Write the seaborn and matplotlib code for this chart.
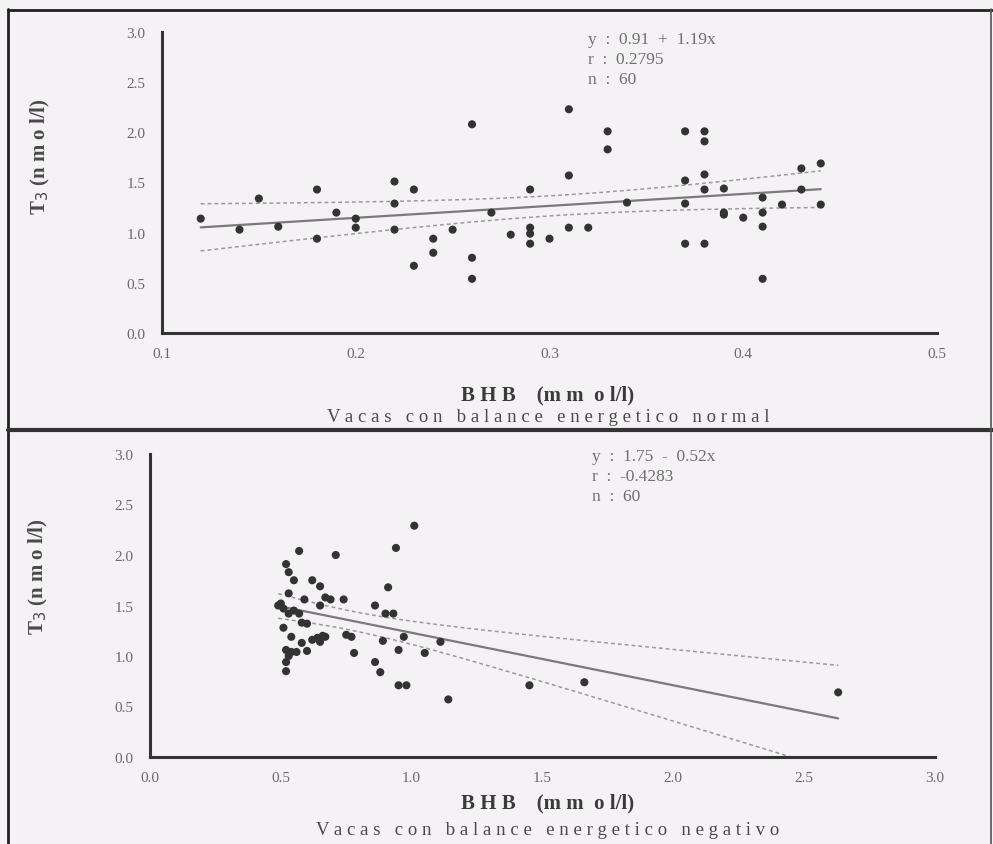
import numpy as np
import pandas as pd
import matplotlib
matplotlib.use("Agg")
import matplotlib.pyplot as plt
from matplotlib.lines import Line2D
import seaborn as sns

# ---------------- data ----------------
normal_bhb = [0.12, 0.14, 0.15, 0.16, 0.18, 0.18, 0.19, 0.20, 0.20, 0.22,
              0.22, 0.22, 0.23, 0.23, 0.24, 0.24, 0.25, 0.26, 0.26, 0.26,
              0.27, 0.28, 0.29, 0.29, 0.29, 0.29, 0.30, 0.31, 0.31, 0.31,
              0.32, 0.33, 0.33, 0.34, 0.37, 0.37, 0.37, 0.37, 0.38, 0.38,
              0.38, 0.38, 0.38, 0.39, 0.39, 0.39, 0.40, 0.41, 0.41, 0.41,
              0.41, 0.42, 0.43, 0.43, 0.44, 0.44]
normal_t3 = [1.14, 1.03, 1.34, 1.06, 1.43, 0.94, 1.20, 1.14, 1.05, 1.51,
             1.29, 1.03, 1.43, 0.67, 0.94, 0.80, 1.03, 2.08, 0.75, 0.54,
             1.20, 0.98, 1.43, 1.05, 0.99, 0.89, 0.94, 2.23, 1.57, 1.05,
             1.05, 2.01, 1.83, 1.30, 2.01, 1.52, 1.29, 0.89, 2.01, 1.91,
             1.58, 1.43, 0.89, 1.44, 1.20, 1.18, 1.15, 1.35, 1.20, 1.06,
             0.54, 1.28, 1.64, 1.43, 1.69, 1.28]

neg_bhb = [0.57, 0.71, 0.94, 1.01, 0.52, 0.53, 0.55, 0.62, 0.65, 0.53,
           0.59, 0.67, 0.69, 0.74, 0.65, 0.49, 0.51, 0.53, 0.57, 0.58,
           0.60, 0.91, 0.86, 0.90, 0.93, 0.51, 0.54, 0.58, 0.64, 0.65,
           0.67, 0.75, 0.77, 0.89, 0.97, 1.11, 0.52, 0.56, 0.78, 0.95,
           1.05, 0.52, 0.52, 0.86, 0.88, 0.95, 0.98, 1.14, 1.45, 1.66,
           2.63, 0.50, 0.55, 0.62, 0.60, 0.53, 0.66, 0.54]
neg_t3 = [2.04, 2.00, 2.07, 2.29, 1.91, 1.83, 1.75, 1.75, 1.69, 1.62,
          1.56, 1.58, 1.56, 1.56, 1.50, 1.50, 1.47, 1.42, 1.42, 1.33,
          1.32, 1.68, 1.50, 1.42, 1.42, 1.28, 1.19, 1.13, 1.18, 1.14,
          1.19, 1.21, 1.19, 1.15, 1.19, 1.14, 1.06, 1.04, 1.03, 1.06,
          1.03, 0.94, 0.85, 0.94, 0.84, 0.71, 0.71, 0.57, 0.71, 0.74,
          0.64, 1.52, 1.45, 1.16, 1.05, 1.00, 1.20, 1.04]

normal_fit = [0.91, 1.19]      # intercept, slope
neg_fit = [1.75, -0.52]
normal_stats = ["y  :  0.91  +  1.19x", "r  :  0.2795", "n  :  60"]
neg_stats = ["y  :  1.75  -  0.52x", "r  :  -0.4283", "n  :  60"]
normal_xticks = [0.1, 0.2, 0.3, 0.4, 0.5]
neg_xticks = [0.0, 0.5, 1.0, 1.5, 2.0, 2.5, 3.0]
yticks = [0.0, 0.5, 1.0, 1.5, 2.0, 2.5, 3.0]
ylabel = "T$_3$ (n m o l/l)"
xlabel = "B H B    (m m  o l/l)"
normal_title = "V a c a s   c o n   b a l a n c e   e n e r g e t i c o   n o r m a l"
neg_title = "V a c a s   c o n   b a l a n c e   e n e r g e t i c o   n e g a t i v o"

# ---------------- style ----------------
sns.set_theme(style="white")
plt.rcParams["font.family"] = ["Liberation Serif", "DejaVu Serif"]
BG = "#f4f2f4"
W, H = 993, 845
fig = plt.figure(figsize=(W / 100, H / 100), dpi=100, facecolor=BG)


def px_axes(x0, y0, x1, y1):
    return fig.add_axes([x0 / W, 1 - y1 / H, (x1 - x0) / W, (y1 - y0) / H])


def panel(ax, xs, ys, fit, xlim, xticks, stats, stat_xy):
    ax.set_facecolor(BG)
    df = pd.DataFrame({"x": xs, "y": ys})
    # regression line and 95% confidence band around the stated fit
    a, b = fit
    x = np.asarray(xs)
    y = np.asarray(ys)
    n = len(x)
    resid = y - (a + b * x)
    s = np.sqrt(np.sum(resid ** 2) / (n - 2))
    sxx = np.sum((x - x.mean()) ** 2)
    xx = np.linspace(x.min(), x.max(), 200)
    yy = a + b * xx
    hw = 2.0 * s * np.sqrt(1 / n + (xx - x.mean()) ** 2 / sxx)
    ax.plot(xx, yy, color="#7a7a7a", lw=1.6, zorder=2)
    ax.plot(xx, yy + hw, color="#9a9a9a", lw=1.1, ls=(0, (2.5, 2)), zorder=2)
    ax.plot(xx, yy - hw, color="#9a9a9a", lw=1.1, ls=(0, (2.5, 2)), zorder=2)
    sns.scatterplot(data=df, x="x", y="y", ax=ax, color="#333333", s=34,
                    edgecolor="none", marker="o", zorder=3, legend=False)
    ax.set_xlim(*xlim)
    ax.set_ylim(0, 3.0)
    ax.set_xticks(xticks)
    ax.set_yticks(yticks)
    ax.set_xticklabels([f"{t:.1f}" for t in xticks])
    ax.set_yticklabels([f"{t:.1f}" for t in yticks])
    ax.set_xlabel("")
    ax.set_ylabel("")
    for sp in ["top", "right"]:
        ax.spines[sp].set_visible(False)
    for sp in ["left", "bottom"]:
        ax.spines[sp].set_color("#333333")
        ax.spines[sp].set_linewidth(2.2)
    ax.tick_params(axis="y", direction="out", length=9, width=1.8,
                   color="#333333", labelcolor="#6a6a6a", labelsize=11, pad=3)
    ax.tick_params(axis="x", direction="out", length=6, width=1.8,
                   color="#333333", labelcolor="#6a6a6a", labelsize=11, pad=4)
    for i, t in enumerate(stats):
        fig.text(stat_xy[0] / W, 1 - (stat_xy[1] + 20 * i) / H, t,
                 fontsize=12.5, color="#707070", ha="left", va="center")


ax1 = px_axes(162, 33, 937, 334)
panel(ax1, normal_bhb, normal_t3, normal_fit, (0.1, 0.5), normal_xticks,
      normal_stats, (588, 40))
ax2 = px_axes(150, 455, 935, 758)
panel(ax2, neg_bhb, neg_t3, neg_fit, (0.0, 3.0), neg_xticks,
      neg_stats, (592, 457))

# axis titles
fig.text(40 / W, 1 - 157 / H, ylabel, rotation=90, ha="center", va="center",
         fontsize=15, fontweight="bold", color="#4a4a4a")
fig.text(38 / W, 1 - 577 / H, ylabel, rotation=90, ha="center", va="center",
         fontsize=15, fontweight="bold", color="#4a4a4a")
fig.text(548 / W, 1 - 395 / H, xlabel, ha="center", va="center",
         fontsize=15, fontweight="bold", color="#3a3a3a")
fig.text(548 / W, 1 - 803 / H, xlabel, ha="center", va="center",
         fontsize=15, fontweight="bold", color="#3a3a3a")
fig.text(548 / W, 1 - 418 / H, normal_title, ha="center", va="center",
         fontsize=13.5, color="#4a4a4a")
fig.text(548 / W, 1 - 831 / H, neg_title, ha="center", va="center",
         fontsize=13.5, color="#4a4a4a")

# frame lines
fig.add_artist(Line2D([8 / W, 8 / W], [0, 1 - 10 / H], transform=fig.transFigure,
                      color="#222222", lw=2))
fig.add_artist(Line2D([8 / W, 1], [1 - 11 / H, 1 - 11 / H], transform=fig.transFigure,
                      color="#222222", lw=2))
fig.add_artist(Line2D([8 / W, 1], [1 - 431 / H, 1 - 431 / H], transform=fig.transFigure,
                      color="#333333", lw=3))
fig.add_artist(Line2D([991 / W, 991 / W], [0, 1 - 10 / H], transform=fig.transFigure,
                      color="#555555", lw=1.2))

fig.savefig("out.png", dpi=100, facecolor=BG)
